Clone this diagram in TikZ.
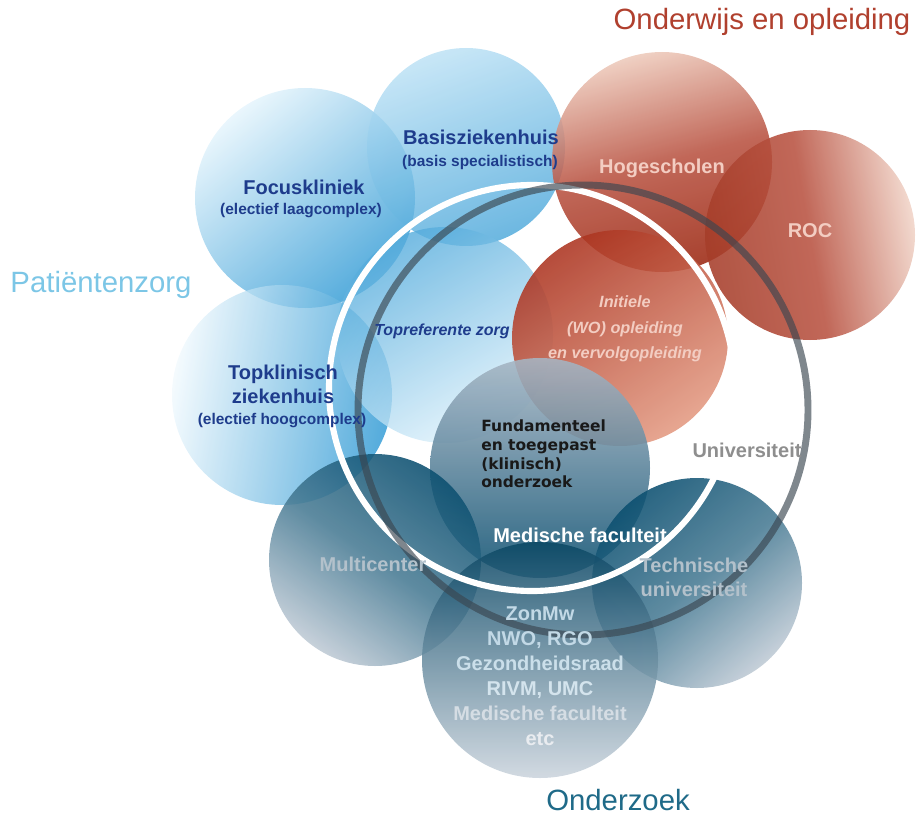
\documentclass[tikz,border=0pt]{standalone}
\usepackage{fontspec}
\setmainfont{Liberation Sans}
\newfontfamily\dejavu{DejaVu Sans}
\definecolor{navy}{HTML}{1E3C8C}
\definecolor{bLight}{HTML}{E4F4FC}
\definecolor{bDark}{HTML}{2896D3}
\definecolor{bMid}{HTML}{9CD3F0}
\definecolor{rLight}{HTML}{EDC9BA}
\definecolor{rDark}{HTML}{9C2812}
\definecolor{rMid}{HTML}{AC3420}
\definecolor{rPeach}{HTML}{E39A82}
\definecolor{tDark}{HTML}{0B4F70}
\definecolor{tLight}{HTML}{BFCAD5}
\definecolor{tGrey}{HTML}{A7B6C4}
\definecolor{ringDark}{HTML}{3A4650}
\definecolor{titleRed}{HTML}{B0402E}
\definecolor{titleBlue}{HTML}{7CC6E6}
\definecolor{titleTeal}{HTML}{1F6A88}
\definecolor{pinkTxt}{HTML}{F3CDC2}
\definecolor{greyTxt}{HTML}{B3C1CB}
\definecolor{uniTxt}{HTML}{8E8E8E}
\definecolor{zonTxt}{HTML}{C2D9E6}
\begin{document}
\begin{tikzpicture}[x=0.75pt,y=-0.75pt,
  circ/.style={circle, inner sep=0pt, outer sep=0pt, minimum size=#1*1.5pt},
  bluec/.style={shade, fill opacity=0.8, draw=none},
  redc/.style={shade, fill opacity=0.88, draw=none},
  tealc/.style={shade, fill opacity=0.88, draw=none},
  ringW/.style={circle, inner sep=0pt, draw=white, line width=4.6pt},
  ringD/.style={circle, inner sep=0pt, draw=ringDark, draw opacity=0.65, line width=5.2pt},
  lbl/.style={font=\bfseries\fontsize{15}{18}\selectfont, align=center, inner sep=0pt},
  sub/.style={font=\bfseries\fontsize{11.6}{14}\selectfont, align=center, inner sep=0pt},
  ttl/.style={font=\fontsize{22}{26}\selectfont, inner sep=0pt},
]
\useasboundingbox (0,0) rectangle (916,816);

% blue circles (Patientenzorg)
\node[circ=110, bluec, top color=bLight, bottom color=bDark, shading angle=40] (focus) at (305,198) {};
\node[circ=99, bluec, top color=bMid!70!white, bottom color=bDark!85!white, shading angle=20] (basis) at (466,147) {};
\node[circ=110, bluec, top color=bLight!50!white, bottom color=bDark, shading angle=80] (topkl) at (282,395) {};
\node[circ=108, bluec, top color=bDark!80!white, bottom color=bLight, shading angle=30] (topref) at (445,335) {};

% red circles (Onderwijs)
\node[circ=110, redc, top color=rLight, bottom color=rDark, middle color=rMid!85!white, shading angle=15] (hoge) at (662,162) {};
\node[circ=105, redc, top color=rDark!90!white, bottom color=rLight!80!white, middle color=rMid!85!white, shading angle=100] (roc) at (810,235) {};
\node[circ=108, redc, top color=rMid, bottom color=rPeach, shading angle=35] (init) at (620,338) {};

% teal circles (Onderzoek)
\node[circ=110, tealc, top color=tGrey, bottom color=tDark, shading angle=0] (fund) at (540,468) {};
\node[circ=106, tealc, top color=tDark, bottom color=tLight, middle color=tDark!75!white, shading angle=-35] (multi) at (375,560) {};
\node[circ=105, tealc, top color=tDark, bottom color=tLight, middle color=tDark!75!white, shading angle=40] (tech) at (697,583) {};
\node[circ=118, tealc, top color=tDark!90!black, bottom color=tLight!80!white, shading angle=0] (zon) at (540,660) {};

% rings
\node[ringW, minimum size=203*1.5pt] (whitering) at (532,388) {};
\node[ringD, minimum size=225*1.5pt] (unering) at (583,410) {};

% titles
\node[ttl, text=titleRed] (tOnd) at (762,22) {Onderwijs en opleiding};
\node[ttl, text=titleBlue] (tPat) at (101,285) {Patiëntenzorg};
\node[ttl, text=titleTeal] (tOz) at (618,800) {Onderzoek};

% blue labels
\node[lbl, text=navy] (lBasis) at (481,137) {Basisziekenhuis};
\node[sub, text=navy] (lBasis2) at (480,163) {(basis specialistisch)};
\node[lbl, text=navy] (lFocus) at (304,187) {Focuskliniek};
\node[sub, text=navy] (lFocus2) at (301,211) {(electief laagcomplex)};
\node[lbl, text=navy] (lTop) at (283,384) {Topklinisch\\ziekenhuis};
\node[sub, text=navy] (lTop2) at (282,421) {(electief hoogcomplex)};
\node[inner sep=0pt, text=navy, font=\bfseries\itshape\fontsize{12}{14}\selectfont] (lRef) at (442,331) {Topreferente zorg};

% red labels
\node[lbl, text=pinkTxt] (lHoge) at (662,168) {Hogescholen};
\node[lbl, text=pinkTxt] (lRoc) at (810,231) {ROC};
\node[inner sep=0pt, align=center, text=pinkTxt, font=\bfseries\itshape\fontsize{12.2}{19}\selectfont] (lInit) at (625,329) {Initiele\\(WO) opleiding\\en vervolgopleiding};

% research labels
\node[inner sep=0pt, align=left, anchor=west, text=black!90, font=\dejavu\bfseries\fontsize{11.6}{13.9}\selectfont] (lFund) at (481,454) {Fundamenteel\\en toegepast\\(klinisch)\\onderzoek};
\node[lbl, text=uniTxt] (lUni) at (747,450) {Universiteit};
\node[lbl, text=white] (lMed) at (580,535) {Medische faculteit};
\node[lbl, text=greyTxt] (lMulti) at (373,564) {Multicenter};
\node[lbl, text=greyTxt] (lTech) at (694,577) {Technische\\universiteit};
\node[inner sep=0pt, align=center, font=\bfseries\fontsize{15}{18.8}\selectfont] (lZon) at (540,676)
  {\color{zonTxt}ZonMw\\\color{zonTxt}NWO, RGO\\\color{zonTxt!85!white}Gezondheidsraad\\\color{zonTxt!70!white}RIVM, UMC\\\color{tLight!65!white}Medische faculteit\\\color{tLight!35!white}etc};
\end{tikzpicture}
\end{document}
